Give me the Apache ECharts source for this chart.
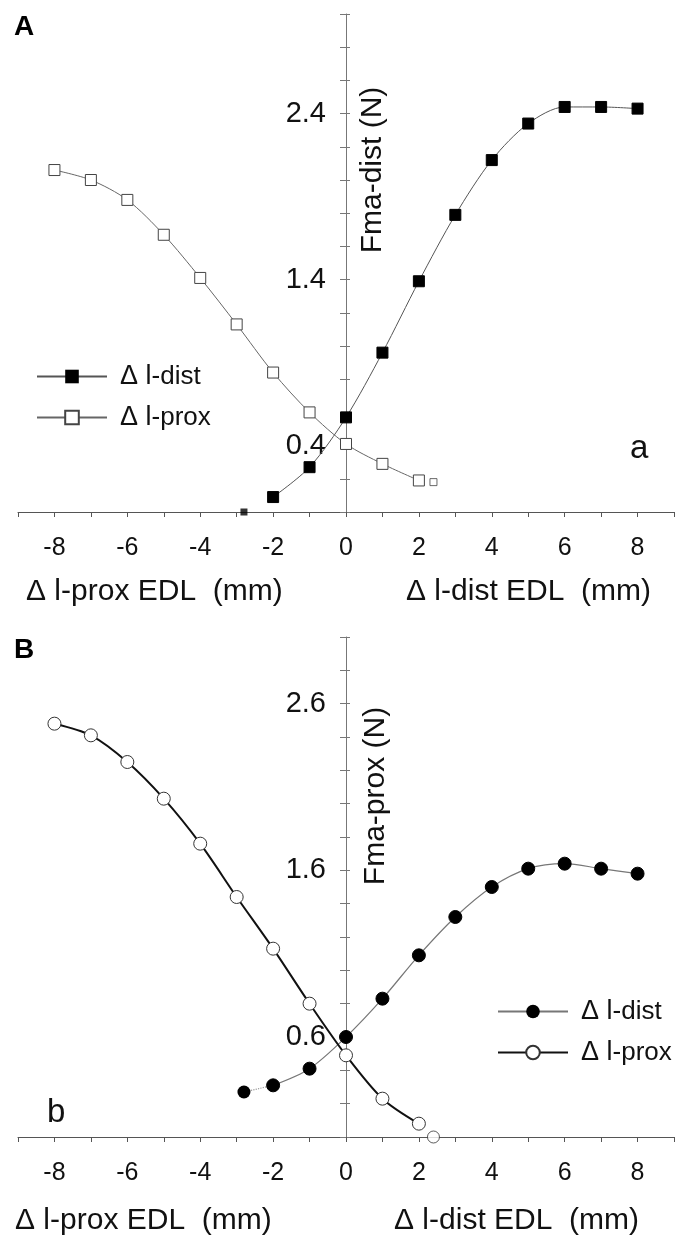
<!DOCTYPE html>
<html>
<head>
<meta charset="utf-8">
<script src="https://cdn.jsdelivr.net/npm/echarts@6/dist/echarts.min.js"></script>
<style>
  html, body { margin: 0; background: #fff; }
  #chart { width: 687px; height: 1237px; }
</style>
</head>
<body>
<div id="chart"></div>
<script>
// x positions (mm)
var xDist = [-2, -1, 0, 1, 2, 3, 4, 5, 6, 7, 8];
var xProx = [-8, -7, -6, -5, -4, -3, -2, -1, 0, 1, 2];

// panel A, Fma-dist (N)
var distA = [0.09, 0.27, 0.57, 0.96, 1.39, 1.79, 2.12, 2.34, 2.44, 2.44, 2.43];
var proxA = [2.06, 2.00, 1.88, 1.67, 1.41, 1.13, 0.84, 0.60, 0.41, 0.29, 0.19];
var distEdgeA = [-2.8, 0.0];
var proxEdgeA = [2.4, 0.18];

// panel B, Fma-prox (N)
var distB = [0.31, 0.41, 0.60, 0.83, 1.09, 1.32, 1.50, 1.61, 1.64, 1.61, 1.58];
var proxB = [2.48, 2.41, 2.25, 2.03, 1.76, 1.44, 1.13, 0.80, 0.49, 0.23, 0.08];
var distEdgeB = [-2.8, 0.27];
var proxEdgeB = [2.4, 0.0];

// tick labels
var xTickLabels = [-8, -6, -4, -2, 0, 2, 4, 6, 8];
var yLabelsA = [0.4, 1.4, 2.4];
var yLabelsB = [0.6, 1.6, 2.6];

var FONT = 'Liberation Sans, Arial, sans-serif';

function pairs(xs, ys) {
  return xs.map(function (x, i) { return [x, ys[i]]; });
}

function xAxis(grid, hidden) {
  return {
    type: 'value', gridIndex: grid, min: -9, max: 9, interval: 1, show: !hidden,
    axisLine: { onZero: false, lineStyle: { color: '#555', width: 1 } },
    axisTick: { length: 5, lineStyle: { color: '#555' } },
    splitLine: { show: false },
    axisLabel: {
      margin: 24, fontSize: 25, color: '#111', fontFamily: FONT,
      formatter: function (v) { return xTickLabels.indexOf(v) >= 0 ? String(v) : ''; }
    }
  };
}

// data axis (hidden) and drawn axis at x = 0 (separate grid)
function yAxis(grid, labels, mode) {
  var inner = mode === 'inner';
  return {
    type: 'value', gridIndex: grid, min: 0, max: 3, interval: 0.2,
    show: mode !== 'hidden', position: 'left',
    axisLine: { show: !inner, onZero: false, lineStyle: { color: '#777', width: 1 } },
    axisTick: { inside: inner, length: inner ? 4 : 6, lineStyle: { color: '#777' } },
    splitLine: { show: false },
    axisLabel: {
      show: !inner, margin: 20, fontSize: 29, color: '#111', fontFamily: FONT,
      formatter: function (v) {
        var r = Math.round(v * 10) / 10;
        return labels.indexOf(r) >= 0 ? r.toFixed(1) : '';
      }
    }
  };
}

var legendText = {
  distA: '{a|Δ l}{b|-dist}', proxA: '{a|Δ l}{b|-prox}',
  distB: '{a|Δ l}{b|-dist}', proxB: '{a|Δ l}{b|-prox}'
};

function legend(names, left, top) {
  return {
    data: names, orient: 'vertical', left: left, top: top,
    itemWidth: 70, itemHeight: 17, itemGap: 14, selectedMode: false,
    formatter: function (n) { return legendText[n]; },
    textStyle: {
      color: '#111', fontFamily: FONT, padding: [0, 0, 0, 8],
      rich: { a: { fontSize: 27, fontFamily: FONT }, b: { fontSize: 26, fontFamily: FONT } }
    }
  };
}

function text(str, x, y, size, extra) {
  return Object.assign({
    type: 'text', x: x, y: y,
    style: { text: str, fontSize: size, fontFamily: FONT, fill: '#111', textVerticalAlign: 'middle' }
  }, extra || {});
}

var chart = echarts.init(document.getElementById('chart'));

chart.setOption({
  animation: false,
  grid: [
    { left: 18, right: 13, top: 14, height: 498, containLabel: false, outerBoundsMode: 'none' },
    { left: 18, right: 13, top: 637, height: 500, containLabel: false, outerBoundsMode: 'none' },
    { left: 346, right: 13, top: 14, height: 498, containLabel: false, outerBoundsMode: 'none' },
    { left: 346, right: 13, top: 637, height: 500, containLabel: false, outerBoundsMode: 'none' }
  ],
  xAxis: [xAxis(0), xAxis(1), xAxis(2, true), xAxis(3, true)],
  yAxis: [
    yAxis(0, yLabelsA, 'hidden'), yAxis(1, yLabelsB, 'hidden'),
    yAxis(2, yLabelsA, 'outer'), yAxis(2, yLabelsA, 'inner'),
    yAxis(3, yLabelsB, 'outer'), yAxis(3, yLabelsB, 'inner')
  ],
  legend: [legend(['distA', 'proxA'], 31, 358), legend(['distB', 'proxB'], 492, 993)],
  series: [
    {
      name: 'distA', type: 'line', xAxisIndex: 0, yAxisIndex: 0, smooth: 0.3,
      data: pairs(xDist, distA), symbol: 'rect', symbolSize: 11,
      lineStyle: { color: '#555', width: 1 }, itemStyle: { color: '#000', borderColor: '#000' }
    },
    {
      name: 'distA-edge', type: 'scatter', xAxisIndex: 0, yAxisIndex: 0, clip: false,
      data: [distEdgeA], symbol: 'rect', symbolSize: 7, itemStyle: { color: '#000' }
    },
    {
      name: 'proxA', type: 'line', xAxisIndex: 0, yAxisIndex: 0, smooth: 0.3,
      data: pairs(xProx, proxA), symbol: 'rect', symbolSize: 11,
      lineStyle: { color: '#666', width: 1 },
      itemStyle: { color: '#fff', borderColor: '#444', borderWidth: 1 }
    },
    {
      name: 'proxA-edge', type: 'scatter', xAxisIndex: 0, yAxisIndex: 0,
      data: [proxEdgeA], symbol: 'rect', symbolSize: 7,
      itemStyle: { color: '#fff', borderColor: '#444', borderWidth: 1 }
    },
    {
      name: 'distB', type: 'line', xAxisIndex: 1, yAxisIndex: 1, smooth: 0.3,
      data: pairs(xDist, distB), symbol: 'circle', symbolSize: 13,
      lineStyle: { color: '#777', width: 1.2 }, itemStyle: { color: '#000', borderColor: '#000' }
    },
    {
      name: 'distB-edge', type: 'line', xAxisIndex: 1, yAxisIndex: 1,
      data: [{ value: distEdgeB }, { value: pairs(xDist, distB)[0], symbol: 'none' }],
      symbol: 'circle', symbolSize: 13, showAllSymbol: true,
      lineStyle: { color: '#999', width: 1.2, type: 'dotted' }, itemStyle: { color: '#000' }
    },
    {
      name: 'proxB', type: 'line', xAxisIndex: 1, yAxisIndex: 1, smooth: 0.3,
      data: pairs(xProx, proxB), symbol: 'circle', symbolSize: 13,
      lineStyle: { color: '#111', width: 2 },
      itemStyle: { color: '#fff', borderColor: '#333', borderWidth: 1 }
    },
    {
      name: 'proxB-edge', type: 'scatter', xAxisIndex: 1, yAxisIndex: 1, clip: false,
      data: [proxEdgeB], symbol: 'circle', symbolSize: 12,
      itemStyle: { color: '#fff', borderColor: '#333', borderWidth: 1 }
    }
  ],
  graphic: [
    text('A', 14, 27, 28, { style: { text: 'A', fontSize: 28, fontWeight: 'bold', fontFamily: FONT, fill: '#000', textVerticalAlign: 'middle' } }),
    text('B', 14, 650, 28, { style: { text: 'B', fontSize: 28, fontWeight: 'bold', fontFamily: FONT, fill: '#000', textVerticalAlign: 'middle' } }),
    text('Fma-dist (N)', 373, 170, 30, { rotation: Math.PI / 2, style: { text: 'Fma-dist (N)', fontSize: 30, fontFamily: FONT, fill: '#111', textAlign: 'center', textVerticalAlign: 'middle' } }),
    text('Fma-prox (N)', 376, 796, 30, { rotation: Math.PI / 2, style: { text: 'Fma-prox (N)', fontSize: 30, fontFamily: FONT, fill: '#111', textAlign: 'center', textVerticalAlign: 'middle' } }),
    text('Δ l-prox EDL  (mm)', 26, 592, 30),
    text('Δ l-dist EDL  (mm)', 406, 592, 30),
    text('Δ l-prox EDL  (mm)', 15, 1221, 30),
    text('Δ l-dist EDL  (mm)', 394, 1221, 30),
    text('a', 630, 449, 33),
    text('b', 47, 1113, 33)
  ]
});
</script>
</body>
</html>
